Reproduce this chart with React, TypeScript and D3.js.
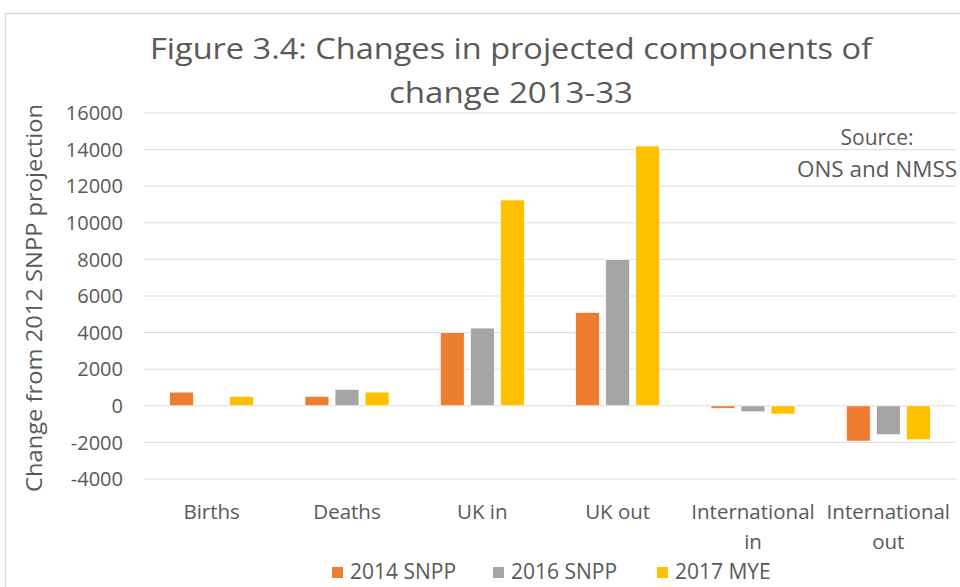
import React from "react";
import * as d3 from "d3";

const categories = ["Births", "Deaths", "UK in", "UK out", "International in", "International out"];
const categoryLines = [["Births"], ["Deaths"], ["UK in"], ["UK out"], ["International", "in"], ["International", "out"]];
const seriesNames = ["2014 SNPP", "2016 SNPP", "2017 MYE"];
const seriesColors = ["#ED7D31", "#A5A5A5", "#FFC000"];
const snpp2014 = [750, 520, 4000, 5100, -150, -1930];
const snpp2016 = [0, 900, 4250, 8000, -330, -1580];
const mye2017 = [520, 750, 11250, 14200, -450, -1860];
const yTicks = [-4000, -2000, 0, 2000, 4000, 6000, 8000, 10000, 12000, 14000, 16000];

const W = 960, H = 587;
const FONT = "'Open Sans', 'Noto Sans', sans-serif";
const TXT = "#595959";

export default function App() {
  const series = [snpp2014, snpp2016, mye2017];
  const plotL = 144, plotR = 956;
  const y = d3.scaleLinear().domain([-4000, 16000]).range([479, 113]);
  const x = d3.scaleBand<string>().domain(categories).range([plotL, plotR]).paddingInner(0).paddingOuter(0);
  const bw = x.bandwidth();
  const barW = bw * 0.177;
  const step = bw * 0.222;

  return (
    <svg width={W} height={H} style={{ position: "absolute", left: 0, top: 0, background: "#fff" }} fontFamily={FONT}>
      <rect x={0} y={0} width={W} height={H} fill="#fff" />
      <line x1={5.5} y1={13} x2={5.5} y2={H} stroke="#D9D9D9" strokeWidth={1.5} />
      <line x1={5} y1={13.5} x2={W} y2={13.5} stroke="#D9D9D9" strokeWidth={1.5} />

      <text x={511} y={59} textAnchor="middle" fontSize={30} fill={TXT} textLength={722} lengthAdjust="spacingAndGlyphs">Figure 3.4: Changes in projected components of</text>
      <text x={511} y={103} textAnchor="middle" fontSize={30} fill={TXT} textLength={244} lengthAdjust="spacingAndGlyphs">change 2013-33</text>

      {yTicks.map(t => (
        <g key={t}>
          <line x1={plotL} x2={plotR} y1={y(t)} y2={y(t)} stroke="#D9D9D9" strokeWidth={1} />
          <text x={123} y={y(t)} dy="0.36em" textAnchor="end" fontSize={20} fill={TXT}>{t}</text>
        </g>
      ))}

      <text transform={`translate(42,${(y(16000) + y(-4000)) / 2 + 2}) rotate(-90)`} textAnchor="middle" fontSize={22} fill={TXT} textLength={388} lengthAdjust="spacingAndGlyphs">Change from 2012 SNPP projection</text>

      {categories.map((c, i) => {
        const cx = (x(c) as number) + bw / 2;
        return (
          <g key={c}>
            {series.map((s, j) => {
              const v = s[i];
              if (v === 0) return null;
              const bx = cx + (j - 1) * step - barW / 2;
              const y0 = y(0), y1 = y(v);
              return <rect key={j} x={bx} y={Math.min(y0, y1)} width={barW} height={Math.abs(y1 - y0)} fill={seriesColors[j]} stroke="#fff" strokeWidth={0.75} />;
            })}
            {categoryLines[i].map((ln, k) => (
              <text key={k} x={cx} y={519 + k * 30} textAnchor="middle" fontSize={20.5} fill={TXT}>{ln}</text>
            ))}
          </g>
        );
      })}

      <text x={877} y={145} textAnchor="middle" fontSize={21} fill={TXT}>Source:</text>
      <text x={877} y={177} textAnchor="middle" fontSize={21} fill={TXT} textLength={160} lengthAdjust="spacingAndGlyphs">ONS and NMSS</text>

      {seriesNames.map((n, j) => {
        const lx = [332, 493, 657][j];
        return (
          <g key={n}>
            <rect x={lx} y={567} width={11} height={11} fill={seriesColors[j]} />
            <text x={lx + 18} y={579} fontSize={21} fill={TXT}>{n}</text>
          </g>
        );
      })}
    </svg>
  );
}
